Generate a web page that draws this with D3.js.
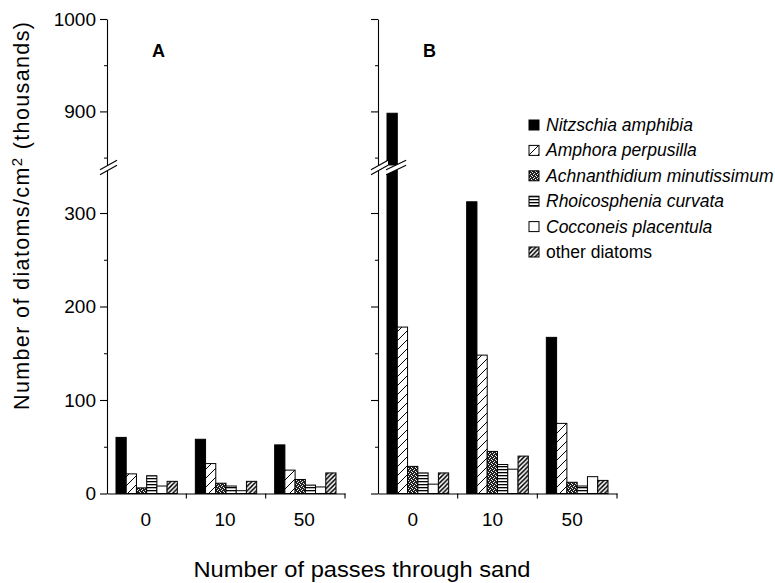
<!DOCTYPE html>
<html>
<head>
<meta charset="utf-8">
<script src="https://cdn.jsdelivr.net/npm/d3@7"></script>
<style>
  html, body { margin: 0; padding: 0; background: #fff; }
  svg { display: block; font-family: "Liberation Sans", Arial, Helvetica, sans-serif; }
</style>
</head>
<body>
<svg id="chart" width="775" height="583"></svg>
<script>
// ---- data ----
const categories = ["0", "10", "50"];
const seriesNames = ["Nitzschia amphibia", "Amphora perpusilla", "Achnanthidium minutissimum",
                     "Rhoicosphenia curvata", "Cocconeis placentula", "other diatoms"];
const seriesKeys = ["nitz", "amph", "achn", "rhoi", "cocc", "other"];
// panel A values (thousands per cm2), per category 0,10,50
const nitzA = [60, 58, 52];
const amphA = [21, 32, 25];
const achnA = [6, 11, 15];
const rhoiA = [19, 8, 9];
const coccA = [8, 3, 7];
const otherA = [13, 13, 22];
// panel B values
const nitzB = [898, 312, 167];
const amphB = [178, 148, 75];
const achnB = [29, 45, 12];
const rhoiB = [22, 31, 8];
const coccB = [10, 26, 18];
const otherB = [22, 40, 14];
const lowerTicks = [0, 100, 200, 300];
const upperTicks = [900, 1000];
const minorTicks = [50, 150, 250, 850, 950];
const panelLabels = ["A", "B"];

const panelAValues = [nitzA, amphA, achnA, rhoiA, coccA, otherA];
const panelBValues = [nitzB, amphB, achnB, rhoiB, coccB, otherB];

// ---- layout ----
const svg = d3.select("#chart");
const breakTop = 165, breakBot = 170;
const yLow = d3.scaleLinear().domain([0, 346]).range([493.5, breakBot]);
const yHigh = d3.scaleLinear().domain([842, 1000]).range([breakTop, 19]);
const lowMax = yLow.domain()[1], highMin = yHigh.domain()[0];

// patterns
const defs = svg.append("defs");
function pat(id, w, h) {
  return defs.append("pattern").attr("id", id).attr("patternUnits", "userSpaceOnUse")
    .attr("width", w).attr("height", h);
}
let p = pat("p-amph", 9, 9);
p.append("rect").attr("width", 9).attr("height", 9).attr("fill", "#fff");
p.append("path").attr("d", "M0,9L9,0M-2,2L2,-2M7,11L11,7").attr("stroke", "#000").attr("stroke-width", 1);
p = pat("p-other", 4.5, 4.5);
p.append("rect").attr("width", 4.5).attr("height", 4.5).attr("fill", "#fff");
p.append("path").attr("d", "M0,4.5L4.5,0M-1,1L1,-1M3.5,5.5L5.5,3.5").attr("stroke", "#000").attr("stroke-width", 1.5);
p = pat("p-rhoi", 4, 3);
p.append("rect").attr("width", 4).attr("height", 3).attr("fill", "#fff");
p.append("rect").attr("y", 1).attr("width", 4).attr("height", 1.3).attr("fill", "#000");
p = pat("p-achn", 4, 4);
p.append("rect").attr("width", 4).attr("height", 4).attr("fill", "#222");
[[0,0],[2,1],[1,2],[3,3]].forEach(([x, y]) =>
  p.append("rect").attr("x", x).attr("y", y).attr("width", 1).attr("height", 1).attr("fill", "#eee"));

const fills = { nitz: "#000", amph: "url(#p-amph)", achn: "url(#p-achn)", rhoi: "url(#p-rhoi)", cocc: "#fff", other: "url(#p-other)" };

function slashes(g, cx, halfW) {
  const rise = 4.8;
  const x1 = cx - halfW, x2 = cx + halfW;
  g.append("path")
    .attr("d", `M${x1},${breakTop + rise}L${x2},${breakTop - rise}L${x2},${breakBot - rise}L${x1},${breakBot + rise}Z`)
    .attr("fill", "#fff");
  [breakTop, breakBot].forEach(y =>
    g.append("line").attr("x1", x1).attr("y1", y + rise).attr("x2", x2).attr("y2", y - rise)
      .attr("stroke", "#000").attr("stroke-width", 1.1));
}

function drawPanel(axisX, endX, values, showLabels, label, labelShift) {
  const g = svg.append("g");
  const x0 = d3.scaleBand().domain(categories).range([axisX, endX]).padding(0);
  const x1 = d3.scaleBand().domain(seriesKeys).range([9, x0.bandwidth() - 9]).padding(0);

  // bars
  categories.forEach((c, ci) => {
    seriesKeys.forEach((k, si) => {
      const v = values[si][ci];
      const bx = x0(c) + x1(k), bw = x1.bandwidth();
      const attrs = sel => sel.attr("x", bx).attr("width", bw).attr("fill", fills[k])
        .attr("stroke", "#000").attr("stroke-width", 1);
      if (v <= lowMax) {
        g.append("rect").call(attrs).attr("y", yLow(v)).attr("height", yLow(0) - yLow(v));
      } else {
        g.append("rect").call(attrs).attr("y", yLow(lowMax)).attr("height", yLow(0) - yLow(lowMax));
        g.append("rect").call(attrs).attr("y", yHigh(v)).attr("height", yHigh(highMin) - yHigh(v));
        slashes(g, bx + bw / 2 + 4, 10);
      }
    });
  });

  // y axes
  const fmt = showLabels ? d3.format("d") : () => "";
  const lowAx = g.append("g").attr("transform", `translate(${axisX},0)`)
    .call(d3.axisLeft(yLow).tickValues(lowerTicks).tickSize(7).tickSizeOuter(0).tickPadding(4).tickFormat(fmt));
  const highAx = g.append("g").attr("transform", `translate(${axisX},0)`)
    .call(d3.axisLeft(yHigh).tickValues(upperTicks).tickSize(7).tickSizeOuter(0).tickPadding(4).tickFormat(fmt));
  [lowAx, highAx].forEach(a => {
    a.selectAll("text").attr("font-size", 19).attr("fill", "#000");
    a.selectAll("line, path").attr("stroke", "#000").attr("stroke-width", 1.1);
    a.attr("font-family", null);
  });
  g.append("g").attr("transform", `translate(${axisX},0)`)
    .call(d3.axisLeft(yLow).tickValues(minorTicks.filter(t => t <= lowMax)).tickSize(3).tickFormat(""))
    .call(a => a.select(".domain").remove())
    .selectAll("line").attr("stroke", "#000");
  g.append("g").attr("transform", `translate(${axisX},0)`)
    .call(d3.axisLeft(yHigh).tickValues(minorTicks.filter(t => t >= highMin)).tickSize(3).tickFormat(""))
    .call(a => a.select(".domain").remove())
    .selectAll("line").attr("stroke", "#000");

  // x axis
  const xAx = g.append("g").attr("transform", `translate(0,${yLow(0)})`)
    .call(d3.axisBottom(x0).tickSize(0).tickPadding(19).tickSizeOuter(0));
  xAx.attr("font-family", null);
  xAx.select(".domain").attr("stroke", "#000").attr("stroke-width", 1.1);
  xAx.selectAll("text").attr("font-size", 19).attr("fill", "#000").attr("dx", labelShift);
  // boundary ticks
  g.append("g").selectAll("line").data(categories).join("line")
    .attr("x1", d => x0(d) + x0.bandwidth()).attr("x2", d => x0(d) + x0.bandwidth())
    .attr("y1", yLow(0)).attr("y2", yLow(0) + 5).attr("stroke", "#000").attr("stroke-width", 1.1);

  // axis break
  slashes(g, axisX + 1.5, 8.5);

  // panel label
  g.append("text").attr("x", x0(categories[0]) + 45).attr("y", 57)
    .attr("font-size", 18).attr("font-weight", "bold").text(label);
  return g;
}

drawPanel(107, 345, panelAValues, true, panelLabels[0], -1);
drawPanel(378, 617, panelBValues, false, panelLabels[1], -5);

// legend
const ly = d3.scalePoint().domain(seriesKeys).range([125, 252]);
const leg = svg.append("g");
seriesKeys.forEach((k, i) => {
  leg.append("rect").attr("x", 529).attr("y", ly(k) - 5).attr("width", 10).attr("height", 10)
    .attr("fill", fills[k]).attr("stroke", "#000").attr("stroke-width", 1);
  leg.append("text").attr("x", 546).attr("y", ly(k) + 6)
    .attr("font-size", 17.5).attr("font-style", k === "other" ? "normal" : "italic")
    .text(seriesNames[i]);
});

// axis titles
svg.append("text").attr("x", 362).attr("y", 577).attr("text-anchor", "middle")
  .attr("font-size", 22).attr("textLength", 337).attr("lengthAdjust", "spacingAndGlyphs")
  .text("Number of passes through sand");
const yt = svg.append("text").attr("transform", "translate(29,216) rotate(-90)")
  .attr("text-anchor", "middle").attr("font-size", 21.5)
  .attr("textLength", 388).attr("lengthAdjust", "spacing");
yt.append("tspan").text("Number of diatoms/cm");
yt.append("tspan").attr("font-size", 15).attr("dy", -7).text("2");
yt.append("tspan").attr("dy", 7).text(" (thousands)");
</script>
</body>
</html>
